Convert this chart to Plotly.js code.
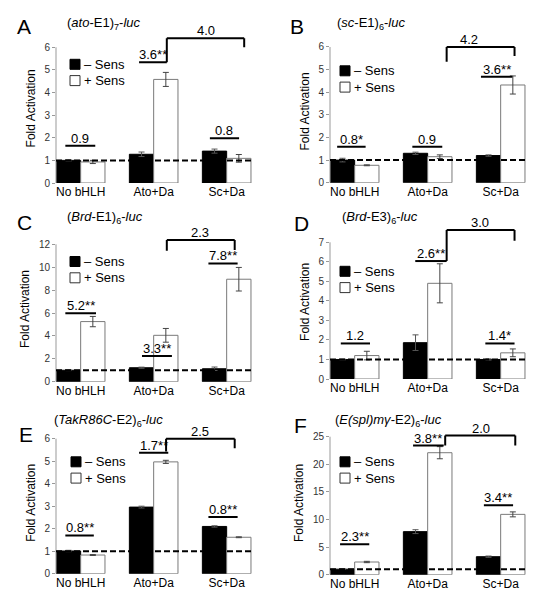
<!DOCTYPE html>
<html>
<head>
<meta charset="utf-8">
<script src="https://cdn.plot.ly/plotly-3.0.1.min.js"></script>
<style>html,body{margin:0;padding:0;background:#fff}#chart{width:541px;height:600px}</style>
</head>
<body>
<div id="chart"></div>
<script>
// ---------------- data ----------------
const categories = ['No bHLH', 'Ato+Da', 'Sc+Da'];
const panelLetters = ['A', 'B', 'C', 'D', 'E', 'F'];
const reporterTitles = [
  '(<i>ato</i>-E1)<sub>7</sub>-<i>luc</i>',
  '(<i>sc</i>-E1)<sub>6</sub>-<i>luc</i>',
  '(<i>Brd</i>-E1)<sub>6</sub>-<i>luc</i>',
  '(<i>Brd</i>-E3)<sub>6</sub>-<i>luc</i>',
  '(<i>TakR86C</i>-E2)<sub>6</sub>-<i>luc</i>',
  '(<i>E(spl)m\u03b3</i>-E2)<sub>6</sub>-<i>luc</i>'
];
const seriesNames = ['\u2013 Sens', '+ Sens'];
const yAxisTitle = 'Fold Activation';

const minusSens = [
  [1.00, 1.27, 1.41],
  [1.00, 1.30, 1.20],
  [1.00, 1.22, 1.13],
  [1.00, 1.86, 1.00],
  [1.01, 2.96, 2.10],
  [1.00, 7.80, 3.26]
];
const minusSensErr = [
  [0.03, 0.10, 0.09],
  [0.08, 0.05, 0.03],
  [0.03, 0.05, 0.15],
  [0.02, 0.40, 0.03],
  [0.03, 0.04, 0.03],
  [0.05, 0.35, 0.12]
];
const plusSens = [
  [0.93, 4.58, 1.09],
  [0.77, 1.15, 4.32],
  [5.25, 4.05, 8.95],
  [1.20, 4.90, 1.34],
  [0.83, 4.97, 1.62],
  [2.30, 22.1, 10.93]
];
const plusSensErr = [
  [0.07, 0.31, 0.17],
  [0.02, 0.08, 0.40],
  [0.45, 0.60, 1.03],
  [0.22, 1.00, 0.20],
  [0.02, 0.07, 0.02],
  [0.12, 1.10, 0.45]
];
const baselineValue = 1;

// fold-change labels within each group
const foldLabels = [
  ['0.9', '3.6**', '0.8'],
  ['0.8*', '0.9', '3.6**'],
  ['5.2**', '3.3**', '7.8**'],
  ['1.2', '2.6**', '1.4*'],
  ['0.8**', '1.7**', '0.8**'],
  ['2.3**', '3.8**', '3.4**']
];
// fold change Ato+Da vs Sc+Da (bracket)
const bracketLabels = ['4.0', '4.2', '2.3', '3.0', '2.5', '2.0'];

// y tick settings
const yTickTop = [6, 6, 12, 7, 6, 25];
const yTickStep = [1, 1, 2, 1, 1, 5];

// ---------------- annotation placement (data units) ----------------
const foldLineY = [
  [1.65, 5.34, 1.98],
  [1.59, 1.59, 4.69],
  [5.97, 2.24, 10.33],
  [1.82, 6.04, 1.82],
  [1.70, 5.37, 2.52],
  [5.5, 23.4, 12.6]
];
const foldLineX = [
  [[-0.21, 0.20], [0.80, 1.18], [1.77, 2.17]],
  [[-0.24, 0.15], [0.79, 1.20], [1.73, 2.16]],
  [[-0.21, 0.21], [0.84, 1.25], [1.75, 2.15]],
  [[-0.19, 0.21], [0.83, 1.26], [1.79, 2.19]],
  [[-0.21, 0.18], [0.80, 1.20], [1.75, 2.15]],
  [[-0.20, 0.20], [0.80, 1.22], [1.77, 2.17]]
];
const bracketX = [[1.18, 2.24], [1.26, 2.19], [1.18, 2.11], [1.26, 2.19], [1.17, 2.11], [1.24, 2.20]];
const bracketTop = [6.4, 6.0, 12.37, 7.63, 6.0, 25.2];
const bracketLeftEnd = [5.34, 5.35, 11.44, 6.04, 5.43, 23.4];
const bracketRightEnd = [6.0, 5.6, 11.5, 7.08, 5.58, 23.4];
const bracketTextX = [1.71, 1.57, 1.64, 1.72, 1.64, 1.73];

// ---------------- layout geometry (pixels) ----------------
const W = 541, H = 600;
const FONT = 'Liberation Sans, Arial, Helvetica, sans-serif';
const xRange = [-0.338, 2.37];
const unitPx = 73;
const plotLeftPx = [56, 330, 56, 330, 56, 330];
const zeroPx = [183, 182.7, 381.7, 379, 573.7, 574.7];
const topTickPx = [47.3, 47, 244.3, 242.3, 438.7, 436.7];
const yTopValue = [6.6, 6.3, 12.7, 7.9, 6.3, 26];
const letterPx = [[24, 26], [297, 26], [24, 222], [301, 224], [26, 434], [300, 425]];
const titlePx = [[65, 23], [335, 23], [65, 217], [340, 218], [52, 420], [333, 420]];
const legendPx = [[70, 64.3], [340, 70.8], [70, 261.5], [340, 271.3], [71, 461.8], [340, 461.8]];
const legendRowGap = 16.3;
const legendBox = 10;

const data = [];
const shapes = [];
const annotations = [];
const layout = {
  width: W, height: H,
  margin: {l: 0, r: 0, t: 0, b: 0, pad: 0},
  paper_bgcolor: '#fff', plot_bgcolor: 'rgba(0,0,0,0)',
  barmode: 'group', bargap: 0.334, bargroupgap: 0,
  showlegend: false,
  font: {family: FONT, color: '#000'}
};

for (let i = 0; i < 6; i++) {
  const n = i === 0 ? '' : String(i + 1);
  const xa = 'x' + n, ya = 'y' + n;

  data.push({
    type: 'bar', x: categories, y: minusSens[i], name: seriesNames[0],
    xaxis: xa, yaxis: ya, hoverinfo: 'skip',
    marker: {color: '#000', line: {color: '#000', width: 1}},
    error_y: {type: 'data', array: minusSensErr[i], color: '#555', thickness: 1, width: 3}
  });
  data.push({
    type: 'bar', x: categories, y: plusSens[i], name: seriesNames[1],
    xaxis: xa, yaxis: ya, hoverinfo: 'skip',
    marker: {color: '#fff', line: {color: '#7a7a7a', width: 1}},
    error_y: {type: 'data', array: plusSensErr[i], color: '#444', thickness: 1, width: 3}
  });

  const pxPerUnit = (zeroPx[i] - topTickPx[i]) / yTickTop[i];
  const domTopPx = zeroPx[i] - yTopValue[i] * pxPerUnit;
  const tickvals = [];
  for (let v = 0; v <= yTickTop[i] + 1e-9; v += yTickStep[i]) tickvals.push(v);

  layout['xaxis' + n] = {
    domain: [plotLeftPx[i] / W, (plotLeftPx[i] + (xRange[1] - xRange[0]) * unitPx) / W],
    range: xRange, anchor: ya, type: 'category',
    showline: false, showgrid: false, zeroline: false, ticks: '',
    tickfont: {family: FONT, size: 12, color: '#000'}, fixedrange: true
  };
  layout['yaxis' + n] = {
    domain: [1 - zeroPx[i] / H, 1 - domTopPx / H],
    range: [0, yTopValue[i]], anchor: xa,
    tickmode: 'array', tickvals: tickvals,
    ticks: 'outside', ticklen: 3, tickcolor: '#999', tickwidth: 1,
    tickfont: {family: FONT, size: 10, color: '#333'},
    showline: false, showgrid: false, zeroline: false, fixedrange: true,
    title: {text: yAxisTitle, font: {family: FONT, size: 12, color: '#000'}, standoff: 6}
  };

  // y axis line (up to the top tick only)
  shapes.push({type: 'line', xref: xa + ' domain', yref: ya + ' domain',
    x0: 0, x1: 0, y0: 0, y1: yTickTop[i] / yTopValue[i],
    line: {color: '#999', width: 1}});

  // dashed baseline at fold = 1
  shapes.push({type: 'line', xref: xa, yref: ya,
    x0: xRange[0], x1: xRange[1], y0: baselineValue, y1: baselineValue,
    line: {color: '#000', width: 2, dash: '6px,3px'}});

  // fold-change lines + labels
  for (let j = 0; j < 3; j++) {
    const [x0, x1] = foldLineX[i][j];
    shapes.push({type: 'line', xref: xa, yref: ya, x0: x0, x1: x1,
      y0: foldLineY[i][j], y1: foldLineY[i][j], line: {color: '#000', width: 2}});
    annotations.push({xref: xa, yref: ya, x: (x0 + x1) / 2, y: foldLineY[i][j],
      text: foldLabels[i][j], showarrow: false, xanchor: 'center', yanchor: 'bottom',
      yshift: -2, font: {family: FONT, size: 13, color: '#000'}});
  }

  // bracket
  const [bx0, bx1] = bracketX[i];
  const bl = {color: '#000', width: 2};
  shapes.push({type: 'line', xref: xa, yref: ya, x0: bx0, x1: bx0, y0: bracketLeftEnd[i], y1: bracketTop[i], line: bl});
  shapes.push({type: 'line', xref: xa, yref: ya, x0: bx0, x1: bx1, y0: bracketTop[i], y1: bracketTop[i], line: bl});
  shapes.push({type: 'line', xref: xa, yref: ya, x0: bx1, x1: bx1, y0: bracketRightEnd[i], y1: bracketTop[i], line: bl});
  annotations.push({xref: xa, yref: ya, x: bracketTextX[i], y: bracketTop[i],
    text: bracketLabels[i], showarrow: false, xanchor: 'center', yanchor: 'bottom',
    yshift: -2, font: {family: FONT, size: 13, color: '#000'}});

  // panel letter and reporter title
  annotations.push({xref: 'paper', yref: 'paper', x: letterPx[i][0] / W, y: 1 - letterPx[i][1] / H,
    text: panelLetters[i], showarrow: false, xanchor: 'center', yanchor: 'middle',
    font: {family: FONT, size: 21, color: '#000'}});
  annotations.push({xref: 'paper', yref: 'paper', x: titlePx[i][0] / W, y: 1 - titlePx[i][1] / H,
    text: reporterTitles[i], showarrow: false, xanchor: 'left', yanchor: 'middle',
    font: {family: FONT, size: 13, color: '#000'}});

  // legend
  for (let k = 0; k < 2; k++) {
    const lx = legendPx[i][0], ly = legendPx[i][1] + k * legendRowGap;
    shapes.push({type: 'rect', xref: 'paper', yref: 'paper',
      x0: lx / W, x1: (lx + legendBox) / W,
      y0: 1 - (ly + legendBox / 2) / H, y1: 1 - (ly - legendBox / 2) / H,
      fillcolor: k === 0 ? '#000' : '#fff', line: {color: k === 0 ? '#000' : '#333', width: 1}});
    annotations.push({xref: 'paper', yref: 'paper', x: (lx + legendBox + 2) / W, y: 1 - ly / H,
      text: seriesNames[k], showarrow: false, xanchor: 'left', yanchor: 'middle',
      font: {family: FONT, size: 13, color: '#000'}});
  }
}

layout.shapes = shapes;
layout.annotations = annotations;

Plotly.newPlot('chart', data, layout, {displayModeBar: false, staticPlot: true});
</script>
</body>
</html>
